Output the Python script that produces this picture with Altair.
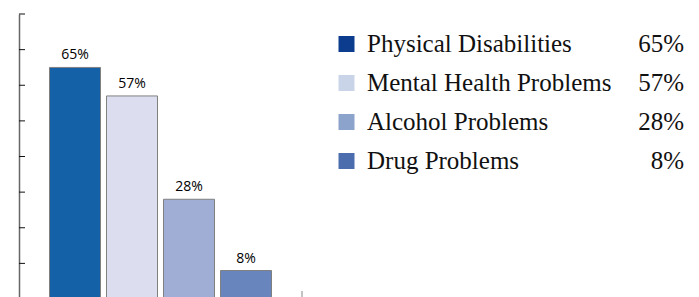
import altair as alt
import pandas as pd

categories = ["Physical Disabilities", "Mental Health Problems", "Alcohol Problems", "Drug Problems"]
values = [65, 57, 28, 8]
value_labels = ["65%", "57%", "28%", "8%"]
bar_colors = ["#1461A8", "#DCDDEE", "#A0AED5", "#6985BD"]
legend_colors = ["#0B3C8E", "#CAD4E9", "#8CA3CC", "#4B6DAE"]
y_ticks = [10, 20, 30, 40, 50, 60, 70, 80]

df = pd.DataFrame({
    "category": categories,
    "value": values,
    "label": value_labels,
    "bar_color": bar_colors,
    "legend_color": legend_colors,
})
ticks_df = pd.DataFrame({"t": y_ticks})

x_enc = alt.X("category:N", sort=categories,
              scale=alt.Scale(paddingInner=0.105, paddingOuter=0.535),
              axis=alt.Axis(labels=False, ticks=False, title=None, domainColor="#777777"))
y_scale = alt.Scale(domain=[0, 80], nice=False)

bars = alt.Chart(df).mark_bar(stroke="#808080", strokeWidth=1).encode(
    x=x_enc,
    y=alt.Y("value:Q", scale=y_scale,
            axis=alt.Axis(labels=False, ticks=False, grid=False, title=None,
                          domainColor="#666666", domainWidth=1.5)),
    color=alt.Color("bar_color:N", scale=None),
)

labels = alt.Chart(df).mark_text(dy=-12, font="Open Sans", fontSize=14, fontWeight=500,
                                 color="#000000").encode(
    x=alt.X("category:N", sort=categories),
    y=alt.Y("value:Q", scale=y_scale),
    text="label:N",
)

tick_marks = alt.Chart(ticks_df).mark_rule(color="#111111", strokeWidth=1).encode(
    y=alt.Y("t:Q", scale=y_scale),
    x=alt.value(0),
    x2=alt.value(6),
)

end_tick = alt.Chart(ticks_df.head(1)).mark_rule(color="#888888", strokeWidth=1).encode(
    x=alt.value(283),
    y=alt.value(277),
    y2=alt.value(285),
)

bar_chart = alt.layer(bars, labels, tick_marks, end_tick).properties(width=283, height=285)

ly = alt.Y("category:N", sort=categories,
           scale=alt.Scale(type="point", padding=0.77), axis=None)

squares = alt.Chart(df).mark_square(size=256, opacity=1).encode(
    y=ly,
    x=alt.value(23.5),
    color=alt.Color("legend_color:N", scale=None),
)
names = alt.Chart(df).mark_text(align="left", baseline="middle", font="Liberation Serif",
                                fontSize=25, color="#111111").encode(
    y=ly,
    x=alt.value(44),
    text="category:N",
)
nums = alt.Chart(df).mark_text(align="right", baseline="middle", font="Liberation Serif",
                               fontSize=25, color="#111111").encode(
    y=ly,
    x=alt.value(361),
    text="label:N",
)
legend_chart = alt.layer(squares, names, nums).properties(width=362, height=177)

chart = alt.hconcat(bar_chart, legend_chart, spacing=20).configure_view(stroke=None).properties(
    padding={"left": 10, "top": 5, "right": 5, "bottom": 5}
)

chart.save("out.html", embed_options={"renderer": "svg", "actions": False})
